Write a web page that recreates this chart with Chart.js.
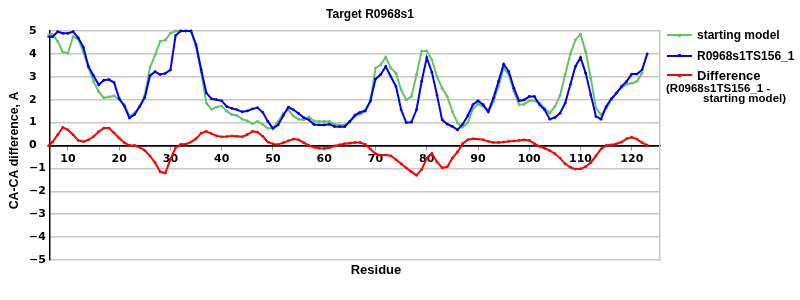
<!DOCTYPE html>
<html>
<head>
<meta charset="utf-8">
<script src="https://cdn.jsdelivr.net/npm/chart.js@4/dist/chart.umd.min.js"></script>
<style>
html,body{margin:0;padding:0;background:#fff;}
#wrap{position:relative;width:800px;height:300px;overflow:hidden;}
#c{position:absolute;left:0;top:0;}
.lt{position:absolute;font-family:"Liberation Sans",Arial,sans-serif;font-weight:bold;color:#000;white-space:nowrap;}
.ll{position:absolute;height:2px;width:25px;left:667px;}
.lm{position:absolute;width:3px;height:3px;left:678px;}
</style>
</head>
<body>
<div id="wrap">
<canvas id="c" width="800" height="300"></canvas>
<div class="ll" style="top:34px;background:#66c266"></div><div class="lm" style="top:33.5px;background:#66c266"></div>
<div class="lt" style="left:697px;top:28px;font-size:12px;line-height:14px;">starting model</div>
<div class="ll" style="top:54.5px;background:#0000f0"></div><div class="lm" style="top:54px;background:#0000f0"></div>
<div class="lt" style="left:697px;top:48.5px;font-size:12px;line-height:14px;">R0968s1TS156_1</div>
<div class="ll" style="top:74px;background:#ff0000"></div><div class="lm" style="top:73.5px;background:#ff0000"></div>
<div class="lt" style="left:697px;top:67.5px;font-size:13px;line-height:15px;">Difference</div>
<div class="lt" style="left:666px;top:81.5px;font-size:11.5px;line-height:13px;">(R0968s1TS156_1 -</div>
<div class="lt" style="left:703px;top:91.5px;font-size:11.5px;line-height:13px;">starting model)</div>
</div>
<script>
const TITLE = "Target R0968s1";
const X_TITLE = "Residue";
const Y_TITLE = "CA-CA difference, A";
const SERIES_NAMES = ["starting model", "R0968s1TS156_1", "Difference"];

const residues = [6,7,8,9,10,11,12,13,14,15,16,17,18,19,20,21,22,23,24,25,26,27,28,29,30,31,32,33,34,35,36,37,38,39,40,41,42,43,44,45,46,47,48,49,50,51,52,53,54,55,56,57,58,59,60,61,62,63,64,65,66,67,68,69,70,71,72,73,74,75,76,77,78,79,80,81,82,83,84,85,86,87,88,89,90,91,92,93,94,95,96,97,98,99,100,101,102,103,104,105,106,107,108,109,110,111,112,113,114,115,116,117,118,119,120,121,122,123];

const startingModel = [4.85,4.85,4.55,4.08,4.03,4.75,4.65,4.1,3.4,2.8,2.35,2.08,2.12,2.17,2.0,1.8,1.27,1.42,1.7,2.2,3.4,3.95,4.55,4.6,4.9,5.0,5.0,5.0,5.0,4.3,3.2,1.85,1.58,1.68,1.72,1.5,1.35,1.3,1.15,1.07,0.95,1.05,0.92,0.75,0.75,1.05,1.4,1.56,1.28,1.15,1.12,1.25,1.07,1.05,1.05,1.05,0.93,0.9,0.9,1.05,1.27,1.37,1.48,1.92,3.38,3.52,3.86,3.38,3.16,2.43,1.99,2.14,3.09,4.13,4.13,3.74,3.01,2.5,2.14,1.48,0.98,0.8,1.0,1.6,1.8,1.7,1.46,1.92,2.58,3.38,3.09,2.36,1.78,1.8,1.95,1.95,1.85,1.63,1.41,1.7,2.18,3.09,3.99,4.61,4.86,4.1,2.94,1.63,1.34,1.63,1.99,2.29,2.53,2.68,2.72,2.8,3.16,null];

const model = [4.75,4.75,4.97,4.9,4.9,4.97,4.7,4.3,3.45,3.05,2.65,2.85,2.88,2.75,2.05,1.72,1.2,1.35,1.7,2.1,3.05,3.22,3.1,3.15,3.3,4.8,5.0,5.0,5.0,4.4,3.3,2.3,2.04,2.0,1.95,1.7,1.62,1.56,1.47,1.51,1.6,1.65,1.45,1.05,0.75,0.9,1.3,1.68,1.56,1.4,1.22,1.12,0.92,0.9,0.9,0.93,0.83,0.82,0.82,1.05,1.33,1.45,1.52,1.95,2.9,3.1,3.45,3.0,2.58,1.56,1.0,1.02,1.56,2.8,3.84,3.2,2.2,1.12,0.93,0.83,0.68,0.93,1.3,1.78,1.95,1.78,1.48,2.07,2.8,3.55,3.23,2.5,1.95,1.99,2.14,2.14,1.78,1.56,1.15,1.22,1.41,1.85,2.65,3.45,3.84,3.16,2.21,1.27,1.15,1.7,2.04,2.29,2.58,2.8,3.12,3.12,3.3,4.0];

const difference = [-0.04,0.15,0.47,0.79,0.68,0.47,0.22,0.17,0.25,0.39,0.6,0.76,0.76,0.55,0.32,0.12,0.0,0.0,-0.08,-0.22,-0.45,-0.75,-1.15,-1.2,-0.6,-0.1,0.05,0.06,0.15,0.3,0.54,0.62,0.52,0.42,0.38,0.39,0.42,0.4,0.38,0.48,0.62,0.58,0.4,0.15,0.07,0.04,0.12,0.2,0.28,0.25,0.12,0.0,-0.08,-0.12,-0.13,-0.1,-0.02,0.03,0.08,0.1,0.13,0.13,0.05,-0.15,-0.36,-0.42,-0.42,-0.45,-0.62,-0.8,-0.98,-1.15,-1.3,-1.05,-0.55,-0.35,-0.72,-0.98,-0.93,-0.55,-0.28,0.08,0.25,0.29,0.28,0.25,0.18,0.13,0.13,0.15,0.18,0.2,0.22,0.25,0.22,0.08,-0.04,-0.12,-0.22,-0.36,-0.55,-0.8,-0.95,-1.03,-1.02,-0.92,-0.75,-0.45,-0.15,0.0,0.03,0.07,0.15,0.3,0.36,0.28,0.12,0.02];

const yTicks = [-5,-4,-3,-2,-1,0,1,2,3,4,5];
const xTicks = [10,20,30,40,50,60,70,80,90,100,110,120];

function pts(vals){ return residues.map((r,i)=>({x:r, y:vals[i]})); }

const tickFont = {family:'"DejaVu Sans", Verdana, sans-serif', weight:'bold', size:11};

const textPlugin = {
  id:'texts',
  afterDraw(chart){
    const c = chart.ctx;
    c.save();
    c.fillStyle = '#000';
    c.textAlign = 'center';
    c.textBaseline = 'middle';
    c.font = 'bold 12px "Liberation Sans", Arial, sans-serif';
    c.fillText(TITLE, 370, 15);
    c.font = 'bold 13px "Liberation Sans", Arial, sans-serif';
    c.fillText(X_TITLE, 376, 270);
    c.font = 'bold 12.3px "Liberation Sans", Arial, sans-serif';
    c.translate(14.5, 150.5);
    c.rotate(-Math.PI/2);
    c.fillText(Y_TITLE, 0, 0);
    c.restore();
  }
};

function ds(label, vals, color, order){
  return {label, data: pts(vals), borderColor: color, backgroundColor: color,
    borderWidth: 2, pointRadius: 1.4, pointHoverRadius: 0, pointBorderWidth: 0,
    tension: 0, clip: false, order, spanGaps: false};
}

new Chart(document.getElementById('c'), {
  type: 'line',
  data: { datasets: [
    ds(SERIES_NAMES[0], startingModel, '#66c266', 3),
    ds(SERIES_NAMES[1], model, '#0000f0', 2),
    ds(SERIES_NAMES[2], difference, '#ff0000', 1)
  ]},
  options: {
    responsive: false, animation: false, devicePixelRatio: 1,
    layout: { padding: { left: 29, right: 140, top: 31, bottom: 40 } },
    plugins: { legend: { display: false }, tooltip: { enabled: false }, title: { display: false } },
    scales: {
      x: {
        type: 'linear', min: 6.5, max: 125.5, position: { y: 0 },
        afterBuildTicks: s => { s.ticks = xTicks.map(v => ({value: v})); },
        afterFit: s => { s.height = 0; },
        ticks: { stepSize: 10, includeBounds: false, autoSkip: false, maxRotation: 0, minRotation: 0, padding: 3, font: tickFont, color: '#000' },
        grid: { drawOnChartArea: false, drawTicks: true, tickLength: 4, color: '#999' },
        border: { display: true, color: '#000', width: 1.5 }
      },
      y: {
        type: 'linear', min: -5, max: 5, position: 'left',
        afterBuildTicks: s => { s.ticks = yTicks.map(v => ({value: v})); },
        afterFit: s => { s.width = 21; },
        ticks: { crossAlign: 'far', padding: 0, font: tickFont, color: '#000',
          callback: v => v < 0 ? '\u2212' + Math.abs(v) : '' + v },
        grid: { drawTicks: false, lineWidth: 1.5, color: c => (c.tick && c.tick.value === 0) ? '#000' : '#c8c8c8' },
        border: { display: true, color: '#000', width: 1.5 }
      },
      y2: {
        type: 'linear', min: -5, max: 5, position: 'right',
        afterFit: s => { s.width = 0; },
        ticks: { display: false }, grid: { display: false },
        border: { display: true, color: '#c8c8c8', width: 1.5 }
      }
    }
  },
  plugins: [textPlugin]
});
</script>
</body>
</html>
